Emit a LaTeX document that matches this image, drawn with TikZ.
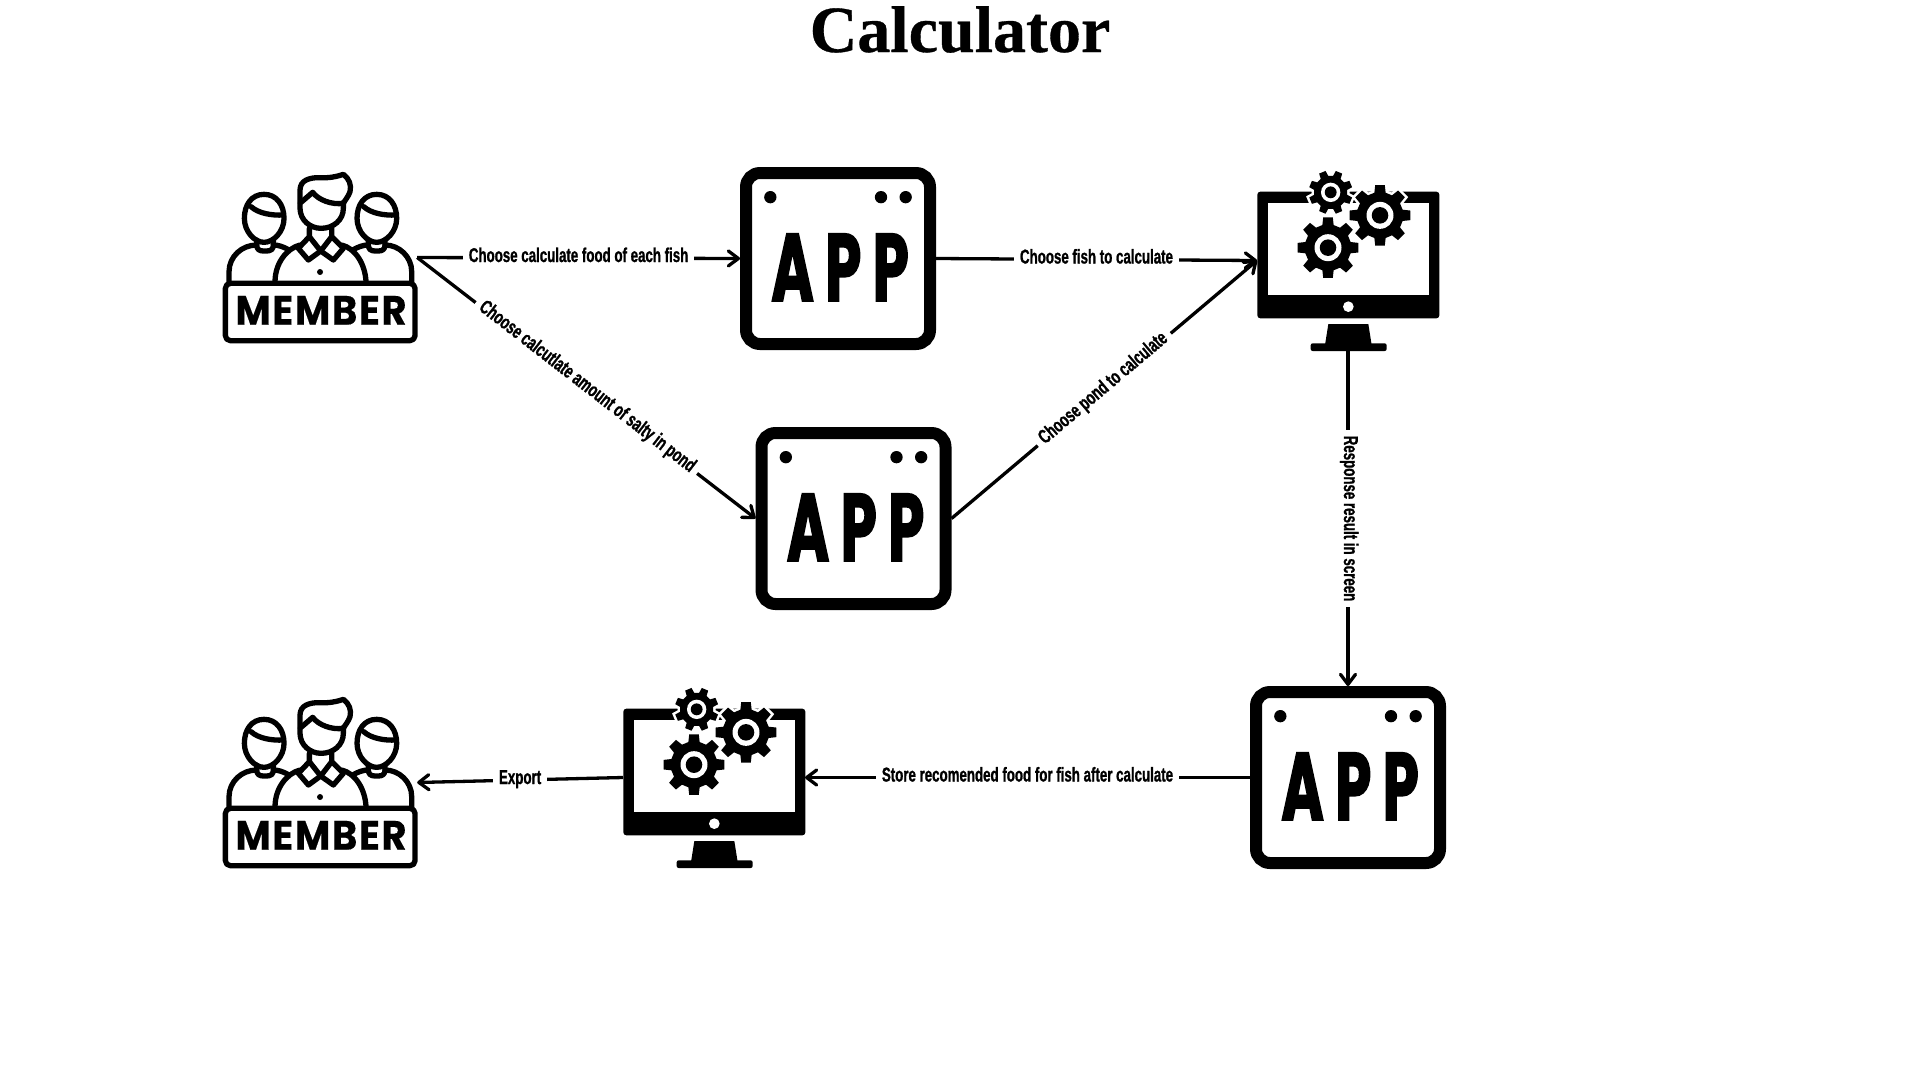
\documentclass[tikz,border=0pt]{standalone}
\usepackage{fontspec}
\usetikzlibrary{arrows.meta}
\newfontfamily\labelfont[FakeStretch=0.665,BoldFeatures={FakeBold=1.0}]{Liberation Sans}
\newfontfamily\iconfont[FakeStretch=0.94,LetterSpace=4,BoldFeatures={FakeBold=0.4}]{Poppins}
\newfontfamily\appfont[FakeStretch=0.6,LetterSpace=12,BoldFeatures={FakeBold=1.6}]{Poppins}
\newfontfamily\titlefont[BoldFeatures={FakeBold=0.5}]{Liberation Serif}
\newcommand\onegear[4]{%
  \begin{scope}[shift={(#1,#2)}]
    \path[fill=black,line join=round,preaction={draw=white,line width=5pt}]
      ({#4-14}:{#3*.76})
      \foreach \k in {0,...,7}{
        -- ({#4+\k*45-14}:{#3*.76}) -- ({#4+\k*45-9}:{#3}) -- ({#4+\k*45+9}:{#3}) -- ({#4+\k*45+14}:{#3*.76})
      } -- cycle;
    \fill[white] (0,0) circle ({#3*.44});
    \fill[black] (0,0) circle ({#3*.27});
  \end{scope}}
\tikzset{
  lbl/.style={fill=white,inner xsep=6pt,inner ysep=0pt,text height=14pt,text depth=6pt,font=\labelfont\bfseries\fontsize{20}{20}\selectfont,text=black},
  conn/.style={line width=3.3pt,-{Straight Barb[length=10pt,width=15pt,round]},black},
  appbox/.style={draw=black,line width=12pt,rounded corners=14pt,fill=white,minimum width=184pt,minimum height=171pt,inner sep=0pt},
  memberzone/.style={inner sep=0pt,outer sep=0pt,minimum width=194pt,minimum height=171pt},
  monitorzone/.style={inner sep=0pt,outer sep=0pt,minimum width=182pt,minimum height=181pt},
  appface/.pic={
    \begin{scope}[scale=1/3,shift={(-354,-325)}]
      \fill (151,141) circle (18.5) (483,141) circle (18.5) (557,141) circle (18.5);
      \node[font=\appfont\bfseries\fontsize{96}{96}\selectfont,inner sep=0pt] (-t) at (360,351.5) {APP};
    \end{scope}},
  memberface/.pic={
    \begin{scope}[scale=1/3,shift={(-315.5,-277.5)},line width=5.3pt,line cap=round,line join=round]
      % left person
      \draw (147,88) .. controls (185,88) and (207,120) .. (207,160) .. controls (207,200) and (175,232) .. (147,232) .. controls (119,232) and (88,200) .. (88,160) .. controls (88,120) and (109,88) .. (147,88) -- cycle;
      \draw (108,125) .. controls (130,145) and (170,152) .. (205,150);
      \draw (125,225) -- (125,240) .. controls (125,252) and (132,258) .. (145,258) -- (155,258) .. controls (168,258) and (175,252) .. (175,240) -- (175,225);
      \draw (42,350) -- (42,320) .. controls (42,275) and (80,240) .. (125,240);
      \draw (175,240) .. controls (190,240) and (205,245) .. (222,255);
      % right person
      \draw (485,88) .. controls (523,88) and (545,120) .. (545,160) .. controls (545,200) and (513,232) .. (485,232) .. controls (457,232) and (426,200) .. (426,160) .. controls (426,120) and (447,88) .. (485,88) -- cycle;
      \draw (446,125) .. controls (468,145) and (508,152) .. (543,150);
      \draw (460,225) -- (460,240) .. controls (460,252) and (467,258) .. (480,258) -- (490,258) .. controls (503,258) and (510,252) .. (510,240) -- (510,225);
      \draw (590,350) -- (590,320) .. controls (590,275) and (552,240) .. (510,240);
      \draw (460,240) .. controls (445,240) and (430,245) .. (413,255);
      % centre person
      \draw (255,115) -- (255,130) .. controls (255,165) and (285,190) .. (318,190) .. controls (355,190) and (385,165) .. (385,130) -- (385,112);
      \draw (255,112) -- (255,75) .. controls (255,45) and (285,38) .. (310,38) .. controls (340,40) and (365,35) .. (385,28) .. controls (402,40) and (410,60) .. (405,80) .. controls (400,95) and (390,105) .. (385,115);
      \draw (258,112) -- (293,82) .. controls (310,105) and (350,120) .. (385,115);
      \draw (283,190) -- (283,215) -- (250,250) -- (280,285) -- (317,258) -- (355,285) -- (385,250) -- (350,215) -- (350,190);
      \draw (283,215) -- (317,258) -- (350,215);
      \draw (180,350) .. controls (180,295) and (215,250) .. (255,240);
      \draw (453,350) .. controls (450,295) and (420,250) .. (380,240);
      \fill (315,321) circle (9);
      % name plate
      \draw[fill=white,rounded corners=5pt] (31,355) rectangle (600,527);
      \node[font=\iconfont\bfseries\fontsize{41}{41}\selectfont,inner sep=0pt] (-t) at (318,436) {MEMBER};
    \end{scope}},
  monitorface/.pic={
    \begin{scope}[scale=1/3,shift={(-324,-331.5)}]
      \fill[rounded corners=3pt] (52,125) rectangle (598,505);
      \fill[white] (85,158) rectangle (567,436);
      \fill[white] (325,470) circle (16);
      \fill (265,522) -- (385,522) -- (395,585) -- (255,585) -- cycle;
      \fill[rounded corners=2pt] (212,580) rectangle (440,603);
      \onegear{264}{293}{92}{0}
      \onegear{420}{196}{92}{0}
      \onegear{272}{127}{66}{22.5}
    \end{scope}}
}
\begin{document}
\begin{tikzpicture}[x=1pt,y=-1pt]
  \useasboundingbox[fill=white] (0,0) rectangle (1920,1080);
  \node[font=\titlefont\bfseries\fontsize{66}{66}\selectfont,anchor=base,inner sep=0pt] (title) at (960,52) {Calculator};

  \node[memberzone] (mem1) at (320.2,257.5) {};
  \node[memberzone] (mem2) at (320.2,782.5) {};
  \node[appbox] (app1) at (838,258.5) {};
  \node[appbox] (app2) at (853.5,518.5) {};
  \node[appbox] (app3) at (1348,777.5) {};
  \node[monitorzone] (mon1) at (1348,260.5) {};
  \node[monitorzone] (mon2) at (714,777.5) {};

  \pic (f1) at (mem1) {memberface};
  \pic (f2) at (mem2) {memberface};
  \pic (f3) at (app1) {appface};
  \pic (f4) at (app2) {appface};
  \pic (f5) at (app3) {appface};
  \pic (f6) at (mon1) {monitorface};
  \pic (f7) at (mon2) {monitorface};

  \draw[conn] (mem1.east) -- node[lbl] (l1) {Choose calculate food of each fish} (app1.west);
  \draw[conn] (mem1.east) -- node[lbl,sloped] (l2) {Choose calcutlate amount of salty in pond} (app2.west);
  \draw[conn] (app1.east) -- node[lbl] (l3) {Choose fish to calculate} (mon1.west);
  \draw[conn] (app2.east) -- node[lbl,sloped] (l4) {Choose pond to calculate} (mon1.west);
  \draw[conn] (mon1.south) -- node[lbl,rotate=-90] (l5) {Response result in screen} (app3.north);
  \draw[conn] (app3.west) -- node[lbl] (l6) {Store recomended food for fish after calculate} (mon2.east);
  \draw[conn] (mon2.west) -- node[lbl] (l7) {Export} (mem2.east);
\end{tikzpicture}
\end{document}
